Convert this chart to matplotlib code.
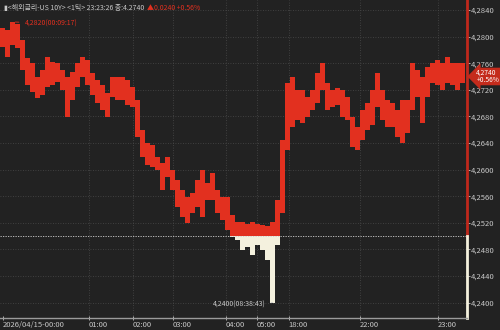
import numpy as np
import matplotlib
matplotlib.use("Agg")
import matplotlib.pyplot as plt

plt.rcParams['font.family'] = ['Noto Sans CJK KR', 'DejaVu Sans']

# tick bars (high / low per slot)
highs = [4.2813, 4.2810, 4.2822, 4.2819, 4.2795, 4.2768, 4.2760, 4.2739, 4.2750, 4.2769,
         4.2762, 4.2760, 4.2750, 4.2739, 4.2747, 4.2760, 4.2769, 4.2765, 4.2745, 4.2735,
         4.2727, 4.2715, 4.2739, 4.2739, 4.2739, 4.2735, 4.2724, 4.2705, 4.2660, 4.2640,
         4.2637, 4.2619, 4.2610, 4.2619, 4.2599, 4.2584, 4.2569, 4.2559, 4.2565, 4.2584,
         4.2599, 4.2580, 4.2595, 4.2569, 4.2559, 4.2559, 4.2532, 4.2521, 4.2521, 4.2518,
         4.2521, 4.2518, 4.2517, 4.2515, 4.2521, 4.2554, 4.2644, 4.2730, 4.2739, 4.2720,
         4.2720, 4.2709, 4.2720, 4.2745, 4.2760, 4.2730, 4.2720, 4.2723, 4.2720, 4.2709,
         4.2679, 4.2664, 4.2690, 4.2700, 4.2720, 4.2745, 4.2720, 4.2705, 4.2700, 4.2690,
         4.2705, 4.2705, 4.2760, 4.2750, 4.2739, 4.2754, 4.2760, 4.2765, 4.2760, 4.2769,
         4.2760, 4.2760, 4.2760]
lows = [4.2784, 4.2769, 4.2787, 4.2783, 4.2750, 4.2727, 4.2717, 4.2708, 4.2712, 4.2724,
        4.2727, 4.2732, 4.2720, 4.2679, 4.2705, 4.2724, 4.2739, 4.2727, 4.2712, 4.2700,
        4.2690, 4.2679, 4.2709, 4.2705, 4.2705, 4.2697, 4.2694, 4.2649, 4.2619, 4.2607,
        4.2604, 4.2599, 4.2569, 4.2589, 4.2569, 4.2544, 4.2529, 4.2520, 4.2535, 4.2544,
        4.2529, 4.2554, 4.2554, 4.2535, 4.2524, 4.2509, 4.2499, 4.2494, 4.2479, 4.2484,
        4.2472, 4.2487, 4.2479, 4.2464, 4.2400, 4.2487, 4.2535, 4.2629, 4.2664, 4.2675,
        4.2670, 4.2679, 4.2690, 4.2700, 4.2720, 4.2690, 4.2694, 4.2697, 4.2679, 4.2675,
        4.2634, 4.2629, 4.2644, 4.2660, 4.2667, 4.2694, 4.2675, 4.2664, 4.2664, 4.2649,
        4.2640, 4.2655, 4.2690, 4.2709, 4.2670, 4.2709, 4.2730, 4.2727, 4.2720, 4.2730,
        4.2727, 4.2720, 4.2730]

prev_close = 4.2500
last = 4.2740
max_label = "4,2820(00:09:17)"
min_label = "4,2400(08:38:43)"

time_labels = ["2026/04/15-00:00", "01:00", "02:00", "03:00", "04:00",
               "05:00", "18:00", "22:00", "23:00"]
time_pos = [0, 17.2, 26, 34, 44.6, 50.8, 57.2, 71.4, 87]
yticks = [4.2400, 4.2440, 4.2480, 4.2520, 4.2560, 4.2600, 4.2640,
          4.2680, 4.2720, 4.2760, 4.2800, 4.2840]

BG = '#222222'
RED = '#e2301f'
CREAM = '#f4f1de'
TXT = '#c8c8c8'

highs = np.array(highs)
lows = np.array(lows)
x = np.arange(len(highs))

fig = plt.figure(figsize=(5, 3.3), dpi=100, facecolor=BG)
ax = fig.add_axes([0, 12 / 330, 467 / 500, 318 / 330], facecolor=BG)

# red part above previous close, cream part below
bot_r = np.maximum(lows, prev_close)
m = highs > prev_close
ax.bar(x[m], (highs - bot_r)[m], bottom=bot_r[m], width=1.0, color=RED, linewidth=0)
top_w = np.minimum(highs, prev_close)
m2 = lows < prev_close
ax.bar(x[m2], (top_w - lows)[m2], bottom=lows[m2], width=1.0, color=CREAM, linewidth=0)

ax.axhline(prev_close, color='#d0d0d0', lw=0.6, ls=(0, (1.5, 1.5)))

ax.set_xlim(-0.5, 467 / 5 - 0.5)
ax.set_ylim(4.23768, 4.2855)

for yv in yticks:
    ax.axhline(yv, color='#4a4a4a', lw=0.6, ls=(0, (1, 2)), zorder=0)
for xv in time_pos[1:]:
    ax.axvline(xv, color='#4a4a4a', lw=0.6, ls=(0, (1, 2)), zorder=0)

for s in ['top', 'left', 'right']:
    ax.spines[s].set_visible(False)
ax.spines['bottom'].set_color('#9a9a9a')
ax.spines['bottom'].set_linewidth(1.0)
ylo, yhi = ax.get_ylim()
ax.plot([1, 1], [prev_close, yhi], transform=ax.get_yaxis_transform(), color='#c0281c',
        lw=2, clip_on=False)
ax.plot([1, 1], [ylo, prev_close], transform=ax.get_yaxis_transform(), color=CREAM,
        lw=2, clip_on=False)

ax.yaxis.tick_right()
ax.set_yticks(yticks)
ax.set_yticklabels([f"{v:.4f}".replace('.', ',') for v in yticks])
ax.tick_params(axis='y', colors=TXT, labelsize=5.5, length=2, width=0.6, pad=1)
ax.set_xticks(time_pos)
ax.set_xticklabels(time_labels, ha='left')
ax.tick_params(axis='x', colors=TXT, labelsize=5.5, length=3, width=0.6, pad=1,
               direction='inout')

# title line, red change part placed right after the grey part
t1 = fig.text(0.008, 0.988, "▮<해외금리-US 10Y> <1틱> 23:23:26 종:4.2740", color=TXT,
              fontsize=5, va='top', ha='left')
fig.canvas.draw()
bb = t1.get_window_extent().transformed(fig.transFigure.inverted())
fig.text(bb.x1 + 0.006, 0.988, "▲0.0240 +0.56%", color=RED, fontsize=5, va='top',
         ha='left')

# max / min marks
imax = int(np.argmax(highs))
ax.annotate(max_label, xy=(imax, highs[imax]), xytext=(imax + 2.4, highs[imax] - 0.0002),
            color=RED, fontsize=5, va='center', ha='left',
            arrowprops=dict(arrowstyle='-', color=RED, lw=0.6))
imin = int(np.argmin(lows))
ax.annotate(min_label, xy=(imin, lows[imin]), xytext=(imin - 1.4, lows[imin] - 0.0003),
            color=TXT, fontsize=5, va='center', ha='right',
            arrowprops=dict(arrowstyle='-', color=TXT, lw=0.6))

# last price tag
ax.annotate(f"{last:.4f}".replace('.', ',') + "\n+0.56%", xy=(1.0, last),
            xycoords=('axes fraction', 'data'), xytext=(1.02, last),
            textcoords=('axes fraction', 'data'), color='white', fontsize=4.8,
            va='center', ha='left', linespacing=1.0,
            bbox=dict(boxstyle='larrow,pad=0.12', fc='#c42b1c', ec='none'),
            annotation_clip=False)

fig.savefig('out.png', dpi=100, facecolor=BG)
